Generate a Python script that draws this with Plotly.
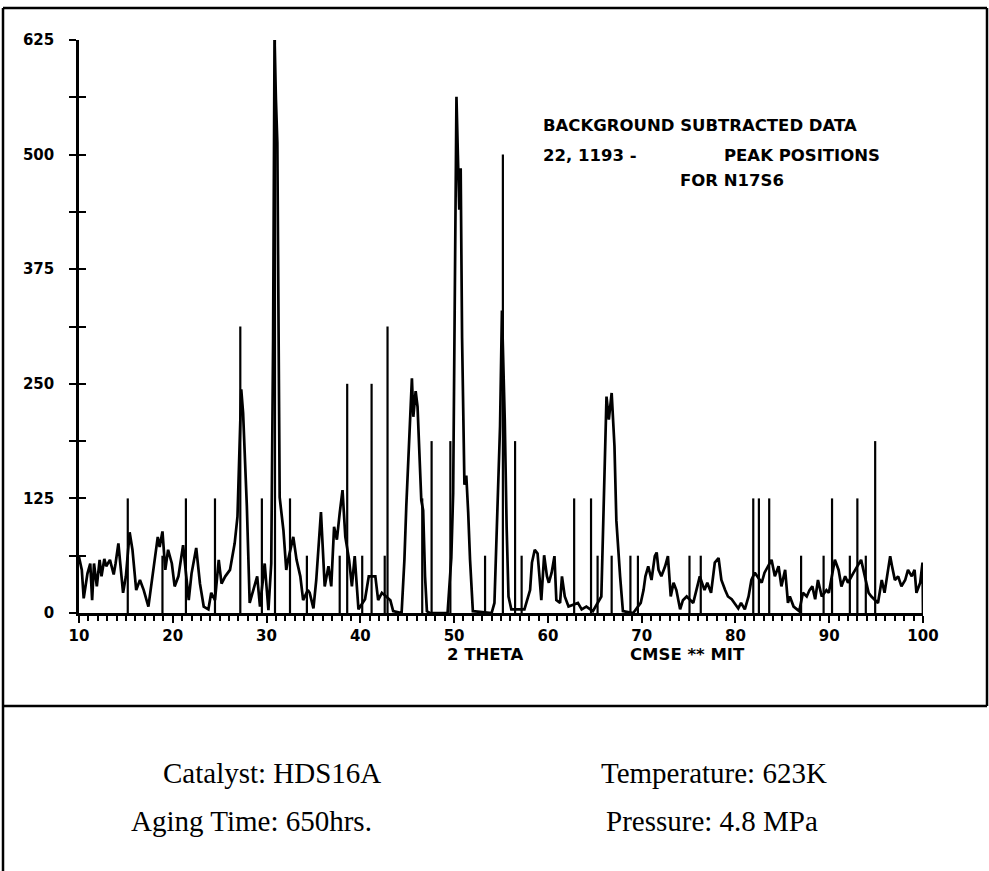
import plotly.graph_objects as go

# ---------------- data ----------------
two_theta = [10.0, 10.3, 10.5, 10.9, 11.2, 11.4, 11.6, 11.9, 12.2, 12.4, 12.7, 12.9, 13.3, 13.7, 13.9,
             14.2, 14.4, 14.7, 15.0, 15.4, 15.7, 16.1, 16.5, 16.9, 17.4, 17.9, 18.4, 18.6, 18.9, 19.2,
             19.5, 19.9, 20.2, 20.6, 21.1, 21.3, 21.7, 22.0, 22.5, 22.9, 23.3, 23.8, 24.1, 24.5, 24.9,
             25.2, 25.6, 26.1, 26.6, 26.9, 27.1, 27.3, 27.5, 27.9, 28.2, 28.6, 29.0, 29.3, 29.8, 30.2,
             30.5, 30.7, 30.85, 31.0, 31.15, 31.4, 31.8, 32.1, 32.3, 32.85, 33.2, 33.6, 33.9, 34.4, 34.6,
             35.0, 35.3, 35.8, 36.2, 36.6, 36.9, 37.2, 37.5, 37.8, 38.1, 38.4, 38.8, 39.1, 39.4, 39.8,
             40.5, 40.9, 41.6, 41.9, 42.3, 43.2, 43.5, 44.4, 44.7, 44.9, 45.2, 45.5, 45.65, 45.9, 46.1,
             46.3, 46.5, 46.7, 46.9, 47.1, 47.4, 49.3, 49.7, 49.9, 50.1, 50.25, 50.4, 50.55, 50.7, 50.85,
             51.1, 51.3, 51.5, 51.7, 52.0, 54.0, 54.3, 54.6, 54.9, 55.1, 55.3, 55.4, 55.6, 55.8, 56.1,
             56.8, 57.5, 58.1, 58.3, 58.6, 58.9, 59.1, 59.3, 59.6, 59.9, 60.1, 60.4, 60.7, 60.9, 61.3,
             61.5, 61.8, 62.2, 63.2, 63.6, 64.1, 64.8, 65.7, 66.0, 66.25, 66.5, 66.8, 67.1, 67.3, 67.7,
             68.0, 69.1, 69.9, 70.2, 70.4, 70.7, 71.05, 71.4, 71.6, 71.8, 72.1, 72.5, 72.8, 73.1, 73.4,
             73.7, 74.1, 74.4, 74.8, 75.5, 75.8, 76.2, 76.7, 77.0, 77.4, 77.8, 78.2, 78.5, 78.9, 79.2,
             79.6, 79.9, 80.3, 80.6, 81.0, 81.4, 81.7, 82.07, 82.8, 83.1, 83.85, 84.2, 84.6, 84.9, 85.3,
             85.6, 85.8, 86.2, 86.5, 86.8, 87.2, 87.6, 87.9, 88.2, 88.5, 88.8, 89.2, 89.7, 89.96, 90.6,
             91.0, 91.3, 91.7, 92.0, 92.6, 93.4, 94.2, 94.5, 95.2, 95.6, 95.9, 96.2, 96.5, 96.7, 97.0,
             97.35, 97.7, 98.1, 98.4, 98.8, 99.1, 99.3, 99.7, 99.95, 100.0]
intensity = [61, 47, 16, 43, 54, 14, 54, 29, 58, 40, 59, 51, 58, 42, 54,
             76, 54, 22, 40, 88, 69, 25, 36, 25, 7, 47, 83, 72, 89, 47,
             69, 54, 29, 40, 74, 54, 14, 43, 71, 32, 7, 4, 22, 14, 58,
             32, 40, 47, 76, 105, 178, 244, 218, 116, 11, 25, 40, 7, 54, 3,
             54, 300, 625, 560, 513, 126, 90, 47, 58, 83, 58, 40, 14, 25, 22,
             5, 36, 110, 29, 51, 29, 94, 80, 109, 134, 83, 58, 29, 62, 4,
             15, 40, 40, 14, 22, 14, 2, 0, 58, 116, 185, 256, 214, 242, 225,
             170, 123, 112, 40, 2, 0, 0, 60, 131, 420, 563, 500, 440, 485, 300,
             140, 150, 110, 58, 2, 0, 11, 112, 204, 330, 250, 211, 94, 18, 4,
             4, 4, 25, 55, 69, 65, 40, 14, 63, 40, 33, 44, 62, 14, 11,
             40, 18, 7, 11, 4, 7, 2, 18, 123, 236, 211, 240, 182, 101, 40,
             2, 0, 11, 25, 40, 51, 36, 62, 66, 47, 40, 51, 62, 18, 33,
             25, 4, 14, 18, 11, 25, 40, 25, 33, 22, 55, 60, 36, 25, 18,
             15, 11, 5, 11, 4, 18, 36, 44, 33, 44, 58, 40, 51, 29, 47,
             11, 18, 7, 4, 2, 22, 18, 25, 29, 15, 36, 18, 25, 22, 58,
             47, 29, 40, 33, 44, 58, 22, 18, 11, 36, 22, 40, 62, 51, 36,
             40, 29, 36, 47, 40, 47, 22, 33, 55, 0]

# reference peak positions (card 22-1193)
peak_pos = [15.2, 18.9, 21.4, 24.5, 27.2, 29.5, 30.9, 32.5, 34.3, 37.8, 38.6, 40.2, 41.2, 42.6,
            42.9, 46.6, 47.6, 49.6, 53.3, 55.2, 56.5, 57.2, 62.8, 64.6, 65.3, 66.8, 68.8, 69.6,
            75.1, 76.3, 81.9, 82.5, 83.6, 87.0, 89.4, 90.3, 92.2, 93.0, 93.9, 94.9]
peak_h = [125, 62.5, 125, 125, 312.5, 125, 625, 125, 62.5, 62.5, 250, 62.5, 250, 62.5,
          312.5, 125, 187.5, 187.5, 62.5, 500, 187.5, 62.5, 125, 125, 62.5, 62.5, 62.5, 62.5,
          62.5, 62.5, 125, 125, 125, 62.5, 62.5, 125, 62.5, 125, 62.5, 187.5]

y_ticks = [0, 125, 250, 375, 500, 625]
x_ticks = [10, 20, 30, 40, 50, 60, 70, 80, 90, 100]

# ---------------- layout geometry (pixels) ----------------
W, H = 989, 871
L, R, T, B = 79, 923, 40, 613


def fx(px):
    return (px - L) / (R - L)


def fy(py):
    return (B - py) / (B - T)


stick_x, stick_y = [], []
for p, h in zip(peak_pos, peak_h):
    stick_x += [p, p, None]
    stick_y += [0, h, None]

fig = go.Figure()
fig.add_trace(go.Scatter(x=two_theta, y=intensity, mode="lines",
                         line=dict(color="black", width=2.7), hoverinfo="skip"))
fig.add_trace(go.Scatter(x=stick_x, y=stick_y, mode="lines", yaxis="y2",
                         line=dict(color="black", width=2.2), hoverinfo="skip"))

tickfont = dict(family="DejaVu Sans", size=15, color="black", weight="bold")

fig.update_layout(
    width=W, height=H,
    margin=dict(l=L, r=W - R, t=T, b=H - B, pad=0),
    paper_bgcolor="white", plot_bgcolor="white",
    showlegend=False,
    xaxis=dict(range=[10, 100], showgrid=False, zeroline=False,
               showline=True, linecolor="black", linewidth=2.5,
               tickvals=x_ticks, ticktext=[str(v) for v in x_ticks],
               ticks="outside", ticklen=7, tickwidth=2, tickcolor="black",
               minor=dict(dtick=1, tick0=10, ticks="outside", ticklen=5, tickwidth=2,
                          tickcolor="black", showgrid=False),
               tickfont=tickfont, ticklabelstandoff=0),
    yaxis=dict(range=[0, 625], showgrid=False, zeroline=False,
               showline=True, linecolor="black", linewidth=2.5,
               tickvals=y_ticks, ticktext=[str(v) for v in y_ticks],
               ticks="outside", ticklen=7, tickwidth=2, tickcolor="black",
               minor=dict(dtick=62.5, tick0=0, ticks="outside", ticklen=7, tickwidth=2,
                          tickcolor="black", showgrid=False),
               tickfont=tickfont, ticklabelstandoff=12),
    yaxis2=dict(range=[0, 625], overlaying="y", side="left", anchor="x",
                showgrid=False, zeroline=False, showline=False,
                tickvals=y_ticks, showticklabels=False,
                ticks="inside", ticklen=7, tickwidth=2, tickcolor="black",
                minor=dict(dtick=62.5, tick0=0, ticks="inside", ticklen=7, tickwidth=2,
                           tickcolor="black", showgrid=False)),
)

# frame and separator
frame = dict(color="black", width=2.5)
fig.add_shape(type="line", xref="paper", yref="paper", x0=fx(3), x1=fx(987), y0=fy(8), y1=fy(8), line=frame)
fig.add_shape(type="line", xref="paper", yref="paper", x0=fx(3), x1=fx(3), y0=fy(8), y1=fy(880), line=frame)
fig.add_shape(type="line", xref="paper", yref="paper", x0=fx(987), x1=fx(987), y0=fy(8), y1=fy(706), line=frame)
fig.add_shape(type="line", xref="paper", yref="paper", x0=fx(3), x1=fx(987), y0=fy(706), y1=fy(706), line=frame)

plot_font = dict(family="DejaVu Sans", size=16.5, color="black", weight="bold")


def ann(text, px, py, xanchor="left", font=plot_font):
    fig.add_annotation(text=text, xref="paper", yref="paper", x=fx(px), y=fy(py),
                       xanchor=xanchor, yanchor="middle", showarrow=False, font=font)


ann("BACKGROUND SUBTRACTED DATA", 541, 125)
ann("22, 1193 -", 541, 155)
ann("PEAK POSITIONS", 882, 155, xanchor="right")
ann("FOR N17S6", 678, 180)
ann("2 THETA", 485, 654, xanchor="center")
ann("CMSE ** MIT", 628, 654)

serif = dict(family="Liberation Serif", size=29, color="black")
ann("Catalyst: HDS16A", 272, 773, xanchor="center", font=serif)
ann("Aging Time: 650hrs.", 251, 821, xanchor="center", font=serif)
ann("Temperature: 623K", 714, 773, xanchor="center", font=serif)
ann("Pressure: 4.8 MPa", 712, 821, xanchor="center", font=serif)

fig.write_html("out.html")
